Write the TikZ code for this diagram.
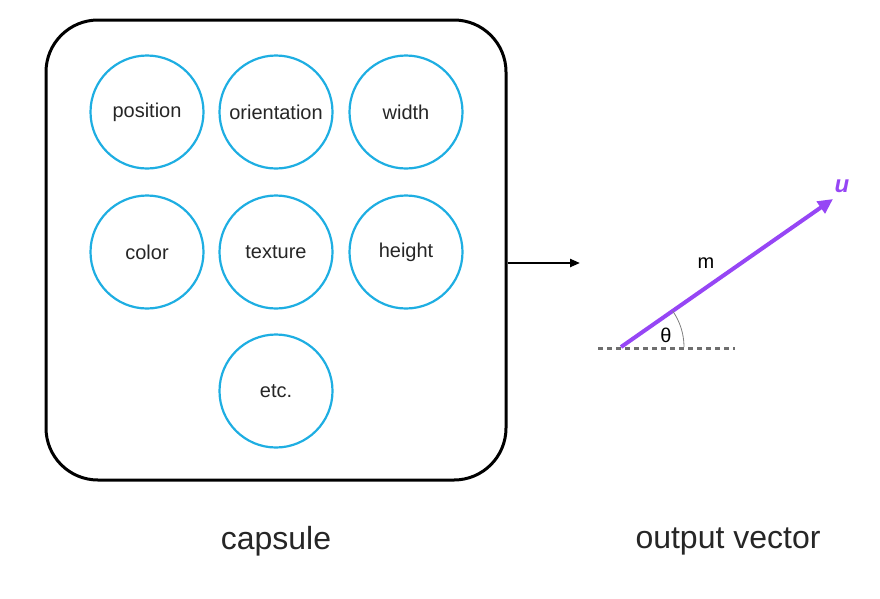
\documentclass[tikz,border=0pt]{standalone}
\usepackage{fontspec}
\setmainfont{Liberation Sans}
\usetikzlibrary{arrows.meta,calc}
\definecolor{cblue}{RGB}{30,174,226}
\definecolor{vpurple}{RGB}{150,70,245}
\definecolor{dgray}{RGB}{110,110,110}
\begin{document}
\begin{tikzpicture}[x=1pt,y=-1pt,
  attr/.style={circle,draw=cblue,line width=2.2pt,minimum size=113pt,inner sep=0pt,font=\fontsize{20}{24}\selectfont,text=black!85},
  captiontext/.style={font=\fontsize{32}{38}\selectfont,text=black!85}]
\useasboundingbox (0,0) rectangle (880,598);
\node[draw,line width=3pt,rounded corners=52pt,minimum width=460pt,minimum height=460pt,inner sep=0pt] (box) at (276,250) {};
\node[attr] (pos) at (147,112) {position};
\node[attr] (ori) at (276,112) {orientation};
\node[attr] (wid) at (406,112) {width};
\node[attr] (col) at (147,252) {color};
\node[attr] (tex) at (276,252) {texture};
\node[attr] (hei) at (406,252) {height};
\node[attr] (etc) at (276,391) {etc.};
\coordinate (a2) at (580,263);
\draw[-{Triangle[length=10pt,width=8pt]},line width=2.2pt] (box.east |- a2) -- (a2);
\coordinate (o) at (621,347);
\coordinate (d1) at (598,348);
\coordinate (d2) at (735,348);
\coordinate (tip) at (833,199);
\draw[dgray,line width=3pt,dash pattern=on 5pt off 4pt] (d1) -- (d2);
\draw[vpurple,line width=4pt,-{Triangle[length=15pt,width=14pt]}] (o) -- (tip);
\draw[gray,line width=0.8pt] ($(o)+(63,0)$) arc[start angle=0,end angle=35,radius=63pt];
\node[font=\fontsize{20}{24}\selectfont] (th) at (666,335) {θ};
\node[font=\fontsize{20}{24}\selectfont] (m) at (706,263) {m};
\node[vpurple,font=\fontsize{24}{28}\selectfont\bfseries\itshape] (u) at (842,186) {u};
\node[captiontext] (capl) at (276,541) {capsule};
\node[captiontext] (vecl) at (728,541) {output vector};
\end{tikzpicture}
\end{document}
